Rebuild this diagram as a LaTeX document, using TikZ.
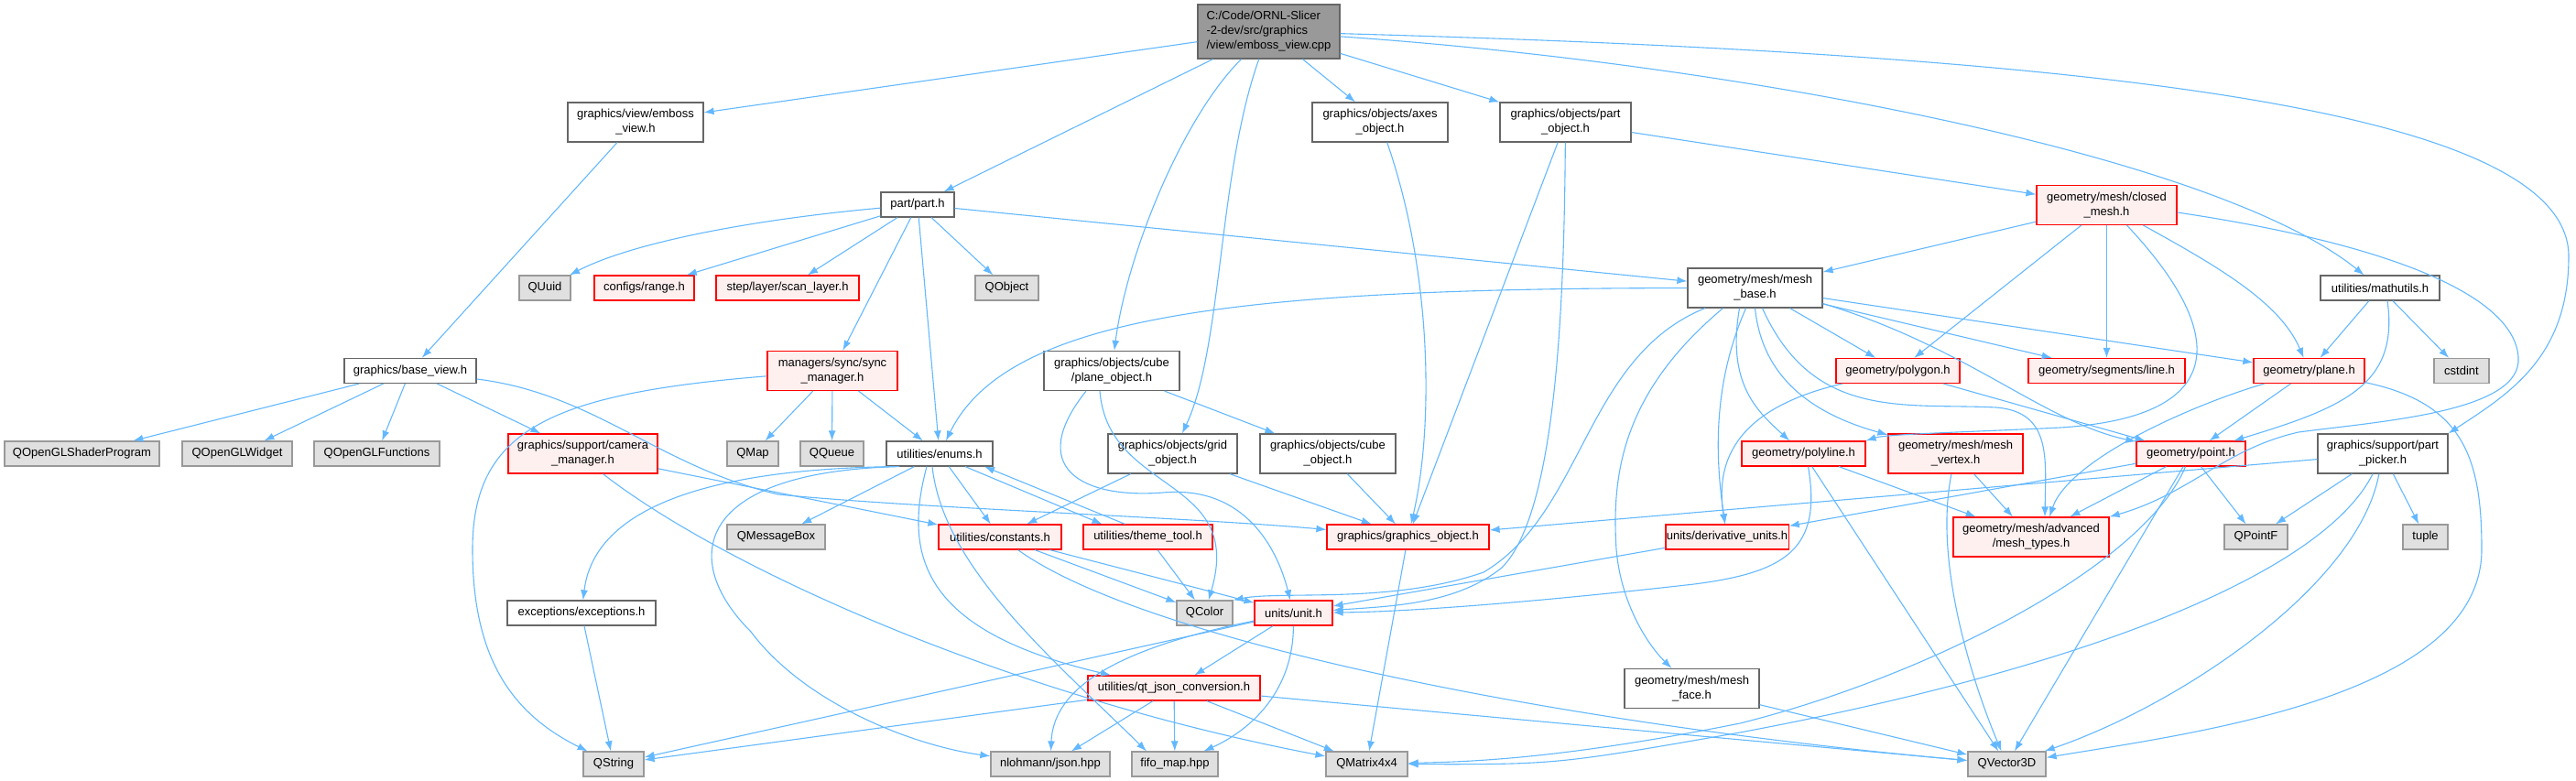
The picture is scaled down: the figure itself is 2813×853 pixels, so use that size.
\documentclass[tikz,border=0pt]{standalone}
\usepackage{fontspec}
\setmainfont{Liberation Sans}
\usepackage{tikz}
\usetikzlibrary{arrows.meta}

\definecolor{edgeblue}{HTML}{63B8FF}
\definecolor{hdrline}{HTML}{666666}
\definecolor{extfill}{HTML}{E0E0E0}
\definecolor{extline}{HTML}{999999}
\definecolor{truncfill}{HTML}{FFF0F0}
\definecolor{rootfill}{HTML}{999999}

\begin{document}
\begin{tikzpicture}[
            x=1pt, y=-1pt,
            font=\fontsize{13}{16}\selectfont,
            hdr/.style={draw=hdrline, fill=white, line width=1.2pt, inner sep=1pt,
            minimum height=27pt, align=center},
            ext/.style={hdr, draw=extline, fill=extfill},
            trunc/.style={hdr, draw=red, fill=truncfill},
            twoline/.style={minimum height=43pt},
            threeline/.style={minimum height=59pt},
            dep/.style={-{Latex[length=11pt,width=8pt]}, edgeblue, line width=1.1pt}
        ]
            \useasboundingbox (0,0) rectangle (2813,853);

% --- the source file ---
            \node[hdr, threeline, fill=rootfill, align=left, minimum width=155pt] (root) at (1385.5,34.5)
                {C:/Code/ORNL-Slicer\\-2-dev/src/graphics\\/view/emboss\_view.cpp};

% --- first level headers ---
            \node[hdr, twoline, minimum width=148pt]   (embossh)    at (694,133.5)    {graphics/view/emboss\\\_view.h};
            \node[hdr, twoline, minimum width=148pt]   (axes)       at (1507,133.5)   {graphics/objects/axes\\\_object.h};
            \node[hdr, twoline, minimum width=143pt]   (partobj)    at (1709.5,133.5) {graphics/objects/part\\\_object.h};
            \node[hdr, minimum width=80pt]             (part)       at (1002,223.5)   {part/part.h};
            \node[trunc, twoline, minimum width=153pt] (closedmesh) at (2300.5,224)   {geometry/mesh/closed\\\_mesh.h};

% --- row under part.h ---
            \node[ext, minimum width=56pt]             (quuid)      at (595,314.5)    {QUuid};
            \node[trunc, minimum width=109pt]          (range)      at (703.5,314.5)  {configs/range.h};
            \node[trunc, minimum width=156pt]          (scanlayer)  at (860,314.5)    {step/layer/scan\_layer.h};
            \node[ext, minimum width=69pt]             (qobject)    at (1099.5,314.5) {QObject};
            \node[hdr, twoline, minimum width=147pt]   (meshbase)   at (1916.5,314.5) {geometry/mesh/mesh\\\_base.h};
            \node[hdr, minimum width=130pt]            (mathutils)  at (2599,314.5)   {utilities/mathutils.h};

            \node[hdr, minimum width=144pt]            (basev)      at (448,405)      {graphics/base\_view.h};
            \node[trunc, twoline, minimum width=142pt] (sync)       at (909,405)      {managers/sync/sync\\\_manager.h};
            \node[hdr, twoline, minimum width=148pt]   (planeobj)   at (1214,405)     {graphics/objects/cube\\/plane\_object.h};
            \node[trunc, minimum width=135pt]          (polygon)    at (2072.5,405)   {geometry/polygon.h};
            \node[trunc, minimum width=171pt]          (line)       at (2300.5,405)   {geometry/segments/line.h};
            \node[trunc, minimum width=121pt]          (plane)      at (2521.5,405)   {geometry/plane.h};
            \node[ext, minimum width=60pt]             (cstdint)    at (2688,405)     {cstdint};

% --- middle row ---
            \node[ext, minimum width=169pt]            (shader)     at (89.5,495.5)   {QOpenGLShaderProgram};
            \node[ext, minimum width=120pt]            (widget)     at (259,495.5)    {QOpenGLWidget};
            \node[ext, minimum width=137pt]            (functions)  at (411.5,495.5)  {QOpenGLFunctions};
            \node[trunc, twoline, minimum width=163pt] (camera)     at (636.5,495.5)  {graphics/support/camera\\\_manager.h};
            \node[ext, minimum width=56pt]             (qmap)       at (822,495.5)    {QMap};
            \node[ext, minimum width=69pt]             (qqueue)     at (908.5,495.5)  {QQueue};
            \node[hdr, minimum width=116pt]            (enums)      at (1026,495.5)   {utilities/enums.h};
            \node[hdr, twoline, minimum width=141pt]   (grid)       at (1280.5,495.5) {graphics/objects/grid\\\_object.h};
            \node[hdr, twoline, minimum width=148pt]   (cube)       at (1450,495.5)   {graphics/objects/cube\\\_object.h};
            \node[trunc, minimum width=135pt]          (polyline)   at (1969.5,495.5) {geometry/polyline.h};
            \node[trunc, twoline, minimum width=147pt] (vertex)     at (2135.5,495.5) {geometry/mesh/mesh\\\_vertex.h};
            \node[trunc, minimum width=119pt]          (point)      at (2392.5,495.5) {geometry/point.h};
            \node[hdr, twoline, minimum width=142pt]   (picker)     at (2602,495.5)   {graphics/support/part\\\_picker.h};

            \node[ext, minimum width=107pt]            (qmessagebox) at (847.5,586.5) {QMessageBox};
            \node[trunc, minimum width=134pt]          (constants)  at (1092,586.5)   {utilities/constants.h};
            \node[trunc, minimum width=141pt]          (theme)      at (1253.5,586.5) {utilities/theme\_tool.h};
            \node[trunc, minimum width=177pt]          (gobj)       at (1537.5,586.5) {graphics/graphics\_object.h};
            \node[trunc, minimum width=134pt]          (derived)    at (1886,586.5)   {units/derivative\_units.h};
            \node[trunc, twoline, minimum width=170pt] (meshtypes)  at (2218,586.5)   {geometry/mesh/advanced\\/mesh\_types.h};
            \node[ext, minimum width=69pt]             (qpointf)    at (2463.5,586.5) {QPointF};
            \node[ext, minimum width=49pt]             (tuple)      at (2648.5,586.5) {tuple};

% --- lower rows ---
            \node[hdr, minimum width=162pt]            (exceptions) at (635,669.5)    {exceptions/exceptions.h};
            \node[ext, minimum width=61pt]             (qcolor)     at (1315.5,669.5) {QColor};
            \node[trunc, minimum width=85pt]           (unit)       at (1412.5,669.5) {units/unit.h};
            \node[trunc, minimum width=188pt]          (qtjson)     at (1282,751.5)   {utilities/qt\_json\_conversion.h};
            \node[hdr, twoline, minimum width=147pt]   (meshface)   at (1847.5,752)   {geometry/mesh/mesh\\\_face.h};

            \node[ext, minimum width=66pt]             (qstring)    at (670,834.5)    {QString};
            \node[ext, minimum width=130pt]            (nlohmann)   at (1147,834.5)   {nlohmann/json.hpp};
            \node[ext, minimum width=94pt]             (fifo)       at (1283,834.5)   {fifo\_map.hpp};
            \node[ext, minimum width=89pt]             (qmatrix)    at (1492.5,834.5) {QMatrix4x4};
            \node[ext, minimum width=85pt]             (qvector)    at (2191.5,834.5) {QVector3D};

% includes of the source file
            \draw[dep] (root) -- (embossh);
            \draw[dep] (root) -- (part);
            \draw[dep] (root) .. controls (1290,130) and (1230,280) .. (planeobj);
            \draw[dep] (root) .. controls (1330,190) and (1335,380) .. (grid);
            \draw[dep] (root) -- (axes);
            \draw[dep] (root) -- (partobj);
            \draw[dep] (root) .. controls (1900,70) and (2420,170) .. (mathutils);
            \draw[dep] (root) .. controls (2300,60) and (2805,120) .. (2805,280)
                .. controls (2805,390) and (2740,430) .. (picker.north east);

% view and base view
            \draw[dep] (embossh) -- (basev);
            \draw[dep] (basev) -- (shader);
            \draw[dep] (basev) -- (widget);
            \draw[dep] (basev) -- (functions);
            \draw[dep] (basev) -- (camera);
            \draw[dep] (basev) .. controls (650,430) and (720,510) .. (850,540)
                .. controls (1000,555) and (1300,565) .. (gobj);
            \draw[dep] (camera) -- (constants);
            \draw[dep] ([xshift=22pt]camera.south) .. controls (790,620) and (1100,760) .. (qmatrix);

% part and sync manager
            \draw[dep] (part) .. controls (820,240) and (690,265) .. (quuid);
            \draw[dep] (part) -- (range);
            \draw[dep] (part) -- (scanlayer);
            \draw[dep] (part) -- (qobject);
            \draw[dep] (part) -- (sync);
            \draw[dep] (part) -- (enums);
            \draw[dep] (part) -- (meshbase);
            \draw[dep] (sync) -- (qmap);
            \draw[dep] (sync) -- (qqueue);
            \draw[dep] (sync) -- (enums);
            \draw[dep] (sync) .. controls (600,430) and (516,470) .. (516,600)
                .. controls (516,720) and (560,780) .. (qstring);

% graphics objects
            \draw[dep] (planeobj) -- (cube);
            \draw[dep] ([xshift=-13pt]planeobj.south) .. controls (1210,540) and (1360,520) .. (qcolor);
            \draw[dep] ([xshift=-28pt]planeobj.south) .. controls (1120,510) and (1180,545) .. (1270,538)
                .. controls (1360,530) and (1395,600) .. (unit);
            \draw[dep] (grid) -- (constants);
            \draw[dep] (grid) -- (gobj);
            \draw[dep] (cube) -- (gobj);
            \draw[dep] (axes) .. controls (1565,300) and (1565,470) .. (gobj);
            \draw[dep] (partobj) -- (gobj);
            \draw[dep] (partobj) -- (closedmesh);
            \draw[dep] (partobj) .. controls (1708,330) and (1700,560) .. (1640,620)
                .. controls (1590,660) and (1520,662) .. (unit);
            \draw[dep] (gobj) -- (qmatrix);

% mesh headers
            \draw[dep] (closedmesh) -- (meshbase);
            \draw[dep] (closedmesh) -- (polygon);
            \draw[dep] (closedmesh) -- (line);
            \draw[dep] (closedmesh) .. controls (2420,290) and (2490,330) .. (plane);
            \draw[dep] ([xshift=22pt]closedmesh.south) .. controls (2430,360) and (2440,455) .. (2250,467)
                .. controls (2150,472) and (2060,474) .. (polyline.north east);
            \draw[dep] ([yshift=-8pt]closedmesh.east) .. controls (2600,265) and (2745,320) .. (2750,390)
                .. controls (2755,450) and (2600,460) .. (2510,472)
                .. controls (2430,490) and (2390,540) .. (meshtypes.north east);
            \draw[dep] (meshbase) .. controls (1350,315) and (1100,345) .. (enums);
            \draw[dep] (meshbase) .. controls (1730,390) and (1730,560) .. (1620,625)
                .. controls (1520,660) and (1400,645) .. (qcolor.north east);
            \draw[dep] (meshbase) -- (polygon);
            \draw[dep] (meshbase) -- (line);
            \draw[dep] (meshbase) -- (plane);
            \draw[dep] ([xshift=-17pt]meshbase.south) .. controls (1885,420) and (1920,450) .. (polyline);
            \draw[dep] (meshbase.south) .. controls (1925,420) and (1990,455) .. (vertex);
            \draw[dep] ([xshift=8pt]meshbase.south) .. controls (1980,460) and (2080,440) .. (2180,445)
                .. controls (2240,450) and (2234,500) .. ([xshift=15pt]meshtypes.north);
            \draw[dep] ([yshift=-17pt]meshbase.east) .. controls (2150,380) and (2230,460) .. (point);
            \draw[dep] ([xshift=-10pt]meshbase.south) .. controls (1870,420) and (1873,500) .. (derived);
            \draw[dep] ([xshift=-35pt]meshbase.south) .. controls (1770,430) and (1760,520) .. (1765,600)
                .. controls (1770,660) and (1800,705) .. ([xshift=-22pt]meshface.north);

% geometry
            \draw[dep] (mathutils) -- (plane);
            \draw[dep] (mathutils) -- (cstdint);
            \draw[dep] ([xshift=8pt]mathutils.south) .. controls (2620,420) and (2560,445) .. (point);
            \draw[dep] (plane) -- (point);
            \draw[dep] (plane) .. controls (2400,440) and (2260,500) .. ([xshift=20pt]meshtypes.north);
            \draw[dep] (plane) .. controls (2690,440) and (2710,500) .. (2710,600)
                .. controls (2710,760) and (2400,800) .. (qvector);
            \draw[dep] (polygon) .. controls (1900,445) and (1872,500) .. (derived);
            \draw[dep] (polygon) -- (point);
            \draw[dep] (point) -- (derived);
            \draw[dep] (point) -- (meshtypes);
            \draw[dep] (point) -- (qpointf);
            \draw[dep] (point) -- (qvector);
            \draw[dep] (point) .. controls (2340,620) and (2100,740) .. (1900,790)
                .. controls (1700,830) and (1600,832) .. (qmatrix);
            \draw[dep] (picker) -- (gobj);
            \draw[dep] (picker) -- (qpointf);
            \draw[dep] (picker) -- (tuple);
            \draw[dep] (picker) .. controls (2575,640) and (2380,770) .. (qvector);
            \draw[dep] (picker) .. controls (2540,620) and (2300,725) .. (1900,800)
                .. controls (1700,835) .. (qmatrix);
            \draw[dep] (polyline) -- (meshtypes);
            \draw[dep] (polyline) -- (qvector);
            \draw[dep] ([xshift=5pt]polyline.south) .. controls (1990,600) and (1950,625) .. (1850,638)
                .. controls (1700,655) and (1550,668) .. (unit);
            \draw[dep] (vertex) -- (meshtypes);
            \draw[dep] (vertex) .. controls (2110,620) and (2160,760) .. (qvector);
            \draw[dep] (derived) -- (unit);
            \draw[dep] (meshface) -- (qvector);

% utilities
            \draw[dep] (enums) -- (qmessagebox);
            \draw[dep] ([xshift=-50pt]enums.south) .. controls (800,512) and (650,545) .. (exceptions);
            \draw[dep] ([xshift=-44pt]enums.south) .. controls (760,515) and (740,610) .. (820,690)
                .. controls (880,770) and (1000,815) .. (nlohmann);
            \draw[dep] (enums) -- (constants);
            \draw[dep] ([xshift=28pt]enums.south) -- ([xshift=-50pt]theme.north);
            \draw[dep] ([xshift=-25pt]theme.north) -- ([xshift=49pt]enums.south);
            \draw[dep] ([xshift=-14pt]enums.south) .. controls (985,610) and (1010,690) .. ([xshift=-69pt]qtjson.north);
            \draw[dep] ([xshift=-8pt]enums.south) .. controls (1030,620) and (1150,720) .. ([xshift=-31pt]fifo.north);
            \draw[dep] (exceptions) -- (qstring);
            \draw[dep] (constants) -- (qcolor);
            \draw[dep] (constants) -- (unit);
            \draw[dep] (constants) .. controls (1250,700) and (1700,790) .. (qvector);
            \draw[dep] (theme) -- (qcolor);
            \draw[dep] (unit) -- (qstring);
            \draw[dep] (unit) .. controls (1200,712) and (1150,760) .. (nlohmann);
            \draw[dep] (unit) -- (qtjson);
            \draw[dep] (unit) .. controls (1412,760) and (1360,800) .. (fifo);
            \draw[dep] (qtjson) -- (qstring);
            \draw[dep] (qtjson) -- (nlohmann);
            \draw[dep] (qtjson) -- (fifo);
            \draw[dep] (qtjson) -- (qmatrix);
            \draw[dep] (qtjson) -- (qvector);
        \end{tikzpicture}
\end{document}
